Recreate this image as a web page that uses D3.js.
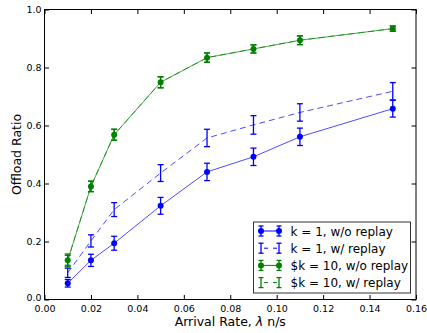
<!DOCTYPE html>
<html lang="en">
<head>
<meta charset="UTF-8">
<title>Offload Ratio vs Arrival Rate</title>
<script src="https://d3js.org/d3.v7.min.js"></script>
<style>
  body { margin: 0; background: #fff; }
  text { font-family: "DejaVu Sans", sans-serif; fill: #000; }
</style>
</head>
<body>
<div id="chart"></div>
<script>
// arrival rates (x)
var rates = [0.01, 0.02, 0.03, 0.05, 0.07, 0.09, 0.11, 0.15];

// k = 1, w/o replay
var k1NoReplay = [0.056, 0.135, 0.194, 0.323, 0.440, 0.492, 0.561, 0.658];
var k1NoReplayErr = [0.013, 0.021, 0.024, 0.029, 0.030, 0.030, 0.030, 0.029];
// k = 1, w/ replay
var k1Replay = [0.092, 0.202, 0.310, 0.436, 0.557, 0.602, 0.645, 0.718];
var k1ReplayErr = [0.016, 0.021, 0.024, 0.029, 0.030, 0.032, 0.030, 0.030];
// k = 10, w/o replay
var k10NoReplay = [0.135, 0.390, 0.568, 0.749, 0.834, 0.864, 0.894, 0.934];
var k10NoReplayErr = [0.017, 0.018, 0.019, 0.019, 0.016, 0.014, 0.015, 0.009];
// k = 10, w/ replay (sits under the w/o replay curve)
var k10Replay = [0.135, 0.390, 0.568, 0.749, 0.834, 0.864, 0.894, 0.934];
var k10ReplayErr = [0.022, 0.018, 0.019, 0.019, 0.016, 0.014, 0.015, 0.009];

var xTicks = [0.00, 0.02, 0.04, 0.06, 0.08, 0.10, 0.12, 0.14, 0.16];
var yTicks = [0.0, 0.2, 0.4, 0.6, 0.8, 1.0];

var series = [
  {label: "$k = 10, w/ replay", y: k10Replay, err: k10ReplayErr, color: "#008000", dashed: true, marker: false},
  {label: "k = 1, w/ replay", y: k1Replay, err: k1ReplayErr, color: "#0000ff", dashed: true, marker: false},
  {label: "k = 1, w/o replay", y: k1NoReplay, err: k1NoReplayErr, color: "#0000ff", dashed: false, marker: true},
  {label: "$k = 10, w/o replay", y: k10NoReplay, err: k10NoReplayErr, color: "#008000", dashed: false, marker: true}
];
var legendOrder = [2, 1, 3, 0];

var W = 427, H = 333;
var margin = {top: 9.5, right: 11, bottom: 33.5, left: 44.5};
var width = W - margin.left - margin.right,
    height = H - margin.top - margin.bottom;

var svg = d3.select("#chart").append("svg")
  .attr("width", W).attr("height", H);
var g = svg.append("g")
  .attr("transform", "translate(" + margin.left + "," + margin.top + ")");

var x = d3.scaleLinear().domain([0, 0.16]).range([0, width]);
var y = d3.scaleLinear().domain([0, 1]).range([height, 0]);

// lines
var line = d3.line()
  .x(function(d) { return x(d[0]); })
  .y(function(d) { return y(d[1]); });

series.forEach(function(s) {
  var pts = rates.map(function(r, i) { return [r, s.y[i]]; });
  var sg = g.append("g");
  sg.append("path")
    .datum(pts)
    .attr("d", line)
    .attr("fill", "none")
    .attr("stroke", s.color)
    .attr("stroke-opacity", 0.7)
    .attr("stroke-width", 1)
    .attr("stroke-dasharray", s.dashed ? "6,4" : null);

  // error bars
  rates.forEach(function(r, i) {
    var cx = x(r), top = y(s.y[i] + s.err[i]), bot = y(s.y[i] - s.err[i]);
    sg.append("line").attr("x1", cx).attr("x2", cx).attr("y1", top).attr("y2", bot)
      .attr("stroke", s.color).attr("stroke-width", 1.3);
    [top, bot].forEach(function(yy) {
      sg.append("line").attr("x1", cx - 3).attr("x2", cx + 3).attr("y1", yy).attr("y2", yy)
        .attr("stroke", s.color).attr("stroke-width", 1.3);
    });
    if (s.marker) {
      sg.append("circle").attr("cx", cx).attr("cy", y(s.y[i])).attr("r", 3)
        .attr("fill", s.color);
    }
  });
});

// frame
g.append("rect").attr("width", width).attr("height", height)
  .attr("fill", "none").attr("stroke", "#000").attr("stroke-width", 1);

// axes (ticks pointing inwards, mirrored on top and right)
g.append("g").attr("transform", "translate(0," + height + ")")
  .call(d3.axisBottom(x).tickValues(xTicks).tickFormat(d3.format(".2f")).tickSizeInner(-4.5).tickSizeOuter(0).tickPadding(6));
var yAxis = g.append("g")
  .call(d3.axisLeft(y).tickValues(yTicks).tickFormat(d3.format(".1f")).tickSizeInner(-4.5).tickSizeOuter(0).tickPadding(3));
g.append("g")
  .call(d3.axisTop(x).tickValues(xTicks).tickFormat("").tickSizeInner(-4.5).tickSizeOuter(0));
g.append("g").attr("transform", "translate(" + width + ",0)")
  .call(d3.axisRight(y).tickValues(yTicks).tickFormat("").tickSizeInner(-4.5).tickSizeOuter(0));
g.selectAll(".domain").remove();
g.selectAll(".tick text").attr("font-size", 9.5).attr("fill", "#222");
// lift the bottom y label a little so it clears the x labels
yAxis.selectAll(".tick text").filter(function(d) { return d === 0; }).attr("dy", "0.1em");

// axis labels
var xl = svg.append("text")
  .attr("x", margin.left + width / 2).attr("y", 326)
  .attr("text-anchor", "middle").attr("font-size", 12.5);
xl.append("tspan").text("Arrival Rate, ");
xl.append("tspan").attr("font-style", "italic").text("λ");
xl.append("tspan").text(" n/s");
svg.append("text")
  .attr("transform", "translate(21," + (margin.top + height / 2) + ") rotate(-90)")
  .attr("text-anchor", "middle").attr("font-size", 12.5)
  .text("Offload Ratio");

// legend
var lg = svg.append("g").attr("transform", "translate(253.5,222)");
lg.append("rect").attr("width", 157).attr("height", 71)
  .attr("fill", "#fff").attr("stroke", "#333").attr("stroke-width", 1);
legendOrder.forEach(function(idx, j) {
  var s = series[idx];
  var ly = 9 + j * 17.2;
  var x1 = 7.5, x2 = 25.5;
  lg.append("line").attr("x1", x1).attr("x2", x2).attr("y1", ly).attr("y2", ly)
    .attr("stroke", s.color).attr("stroke-width", 1)
    .attr("stroke-dasharray", s.dashed ? "4,5" : null)
    .attr("stroke-dashoffset", s.dashed ? -3 : null);
  [x1, x2].forEach(function(xx) {
    lg.append("line").attr("x1", xx).attr("x2", xx).attr("y1", ly - 5).attr("y2", ly + 5)
      .attr("stroke", s.color).attr("stroke-width", 1.3);
    lg.append("line").attr("x1", xx - 2.5).attr("x2", xx + 2.5).attr("y1", ly - 5).attr("y2", ly - 5)
      .attr("stroke", s.color).attr("stroke-width", 1.3);
    lg.append("line").attr("x1", xx - 2.5).attr("x2", xx + 2.5).attr("y1", ly + 5).attr("y2", ly + 5)
      .attr("stroke", s.color).attr("stroke-width", 1.3);
    if (s.marker) {
      lg.append("circle").attr("cx", xx).attr("cy", ly).attr("r", 3).attr("fill", s.color);
    }
  });
  lg.append("text").attr("x", 37).attr("y", ly + 4.5)
    .attr("font-size", 12).text(s.label);
});
</script>
</body>
</html>
